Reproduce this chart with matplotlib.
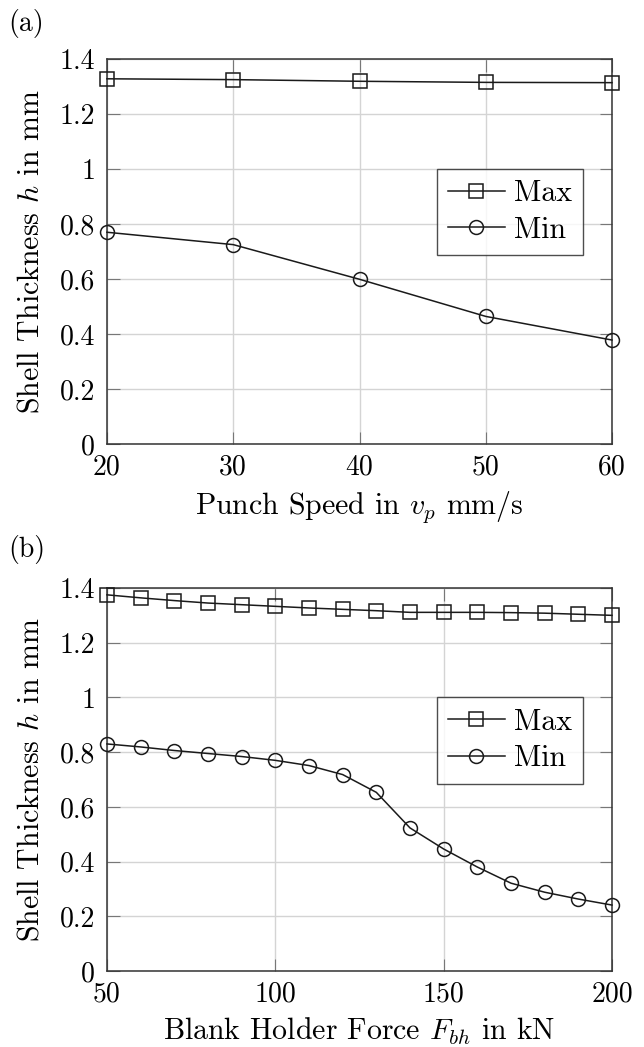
import matplotlib
matplotlib.use("Agg")
import matplotlib.pyplot as plt

plt.rcParams['font.family'] = 'serif'
plt.rcParams['font.serif'] = ['cmr10']
plt.rcParams['mathtext.fontset'] = 'cm'
plt.rcParams['axes.formatter.use_mathtext'] = True

# panel (a): punch speed
speed = [20, 30, 40, 50, 60]
speed_max = [1.328, 1.325, 1.319, 1.315, 1.314]
speed_min = [0.770, 0.725, 0.599, 0.464, 0.378]

# panel (b): blank holder force
force = [50, 60, 70, 80, 90, 100, 110, 120, 130, 140, 150, 160, 170, 180, 190, 200]
force_max = [1.375, 1.364, 1.354, 1.345, 1.339, 1.333, 1.327, 1.322,
             1.317, 1.311, 1.311, 1.311, 1.310, 1.308, 1.304, 1.300]
force_min = [0.830, 0.819, 0.806, 0.795, 0.784, 0.770, 0.751, 0.718,
             0.653, 0.523, 0.446, 0.380, 0.321, 0.288, 0.263, 0.241]

y_ticks = [0, 0.2, 0.4, 0.6, 0.8, 1, 1.2, 1.4]
y_labels = ['0', '0.2', '0.4', '0.6', '0.8', '1', '1.2', '1.4']

W, H = 644, 1047
fig = plt.figure(figsize=(W / 100, H / 100), dpi=100)


def panel(rect, x, ymax, ymin, xticks, xlabel, tag, tag_y):
    ax = fig.add_axes(rect)
    ax.plot(x, ymax, color='#1a1a1a', lw=1.1, marker='s', ms=10,
            mfc='none', mec='#1a1a1a', mew=1.1, label='Max', clip_on=False, zorder=3)
    ax.plot(x, ymin, color='#1a1a1a', lw=1.1, marker='o', ms=10,
            mfc='none', mec='#1a1a1a', mew=1.1, label='Min', clip_on=False, zorder=3)
    ax.set_xlim(x[0], x[-1])
    ax.set_ylim(0, 1.4)
    ax.set_xticks(xticks)
    ax.set_xticklabels([str(t) for t in xticks])
    ax.set_yticks(y_ticks)
    ax.set_yticklabels(y_labels)
    ax.grid(True, color='#d4d4d4', lw=1.0)
    ax.set_axisbelow(True)
    ax.tick_params(direction='in', length=9, width=0.8, color='#777777',
                   top=True, right=True, labelsize=20)
    ax.tick_params(axis='x', pad=7.5)
    ax.tick_params(axis='y', pad=8.5)
    for s in ax.spines.values():
        s.set_linewidth(1.1)
        s.set_color('#333333')
    ax.set_xlabel(xlabel, fontsize=21.5, labelpad=6)
    ax.set_ylabel('Shell Thickness $h$ in mm', fontsize=21.5, labelpad=11)
    leg = ax.legend(loc='upper left', bbox_to_anchor=(0.653, 0.715), fontsize=21.5,
                    frameon=True, fancybox=False, edgecolor='#222222',
                    handlelength=1.9, handletextpad=0.3, borderpad=0.38,
                    labelspacing=0.3, borderaxespad=0)
    leg.get_frame().set_linewidth(1.0)
    fig.text(8 / W, 1 - tag_y / H, tag, fontsize=20, va='center', ha='left')
    return ax


ax1 = panel([107 / W, 1 - 444 / H, 505 / W, 385 / H], speed, speed_max, speed_min,
            [20, 30, 40, 50, 60], 'Punch Speed in $v_p$ mm/s', '(a)', 24)
ax2 = panel([107 / W, 1 - 971 / H, 505 / W, 383 / H], force, force_max, force_min,
            [50, 100, 150, 200], 'Blank Holder Force $F_{bh}$ in kN', '(b)', 550)

fig.savefig('out.png', dpi=100)
